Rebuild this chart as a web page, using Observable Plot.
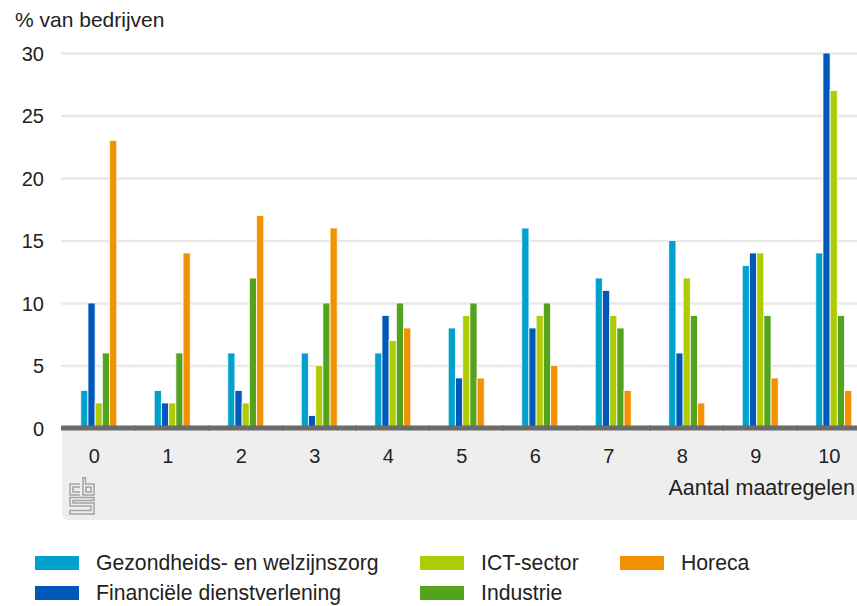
<!DOCTYPE html>
<html>
<head>
<meta charset="utf-8">
<script src="https://cdn.jsdelivr.net/npm/d3@7"></script>
<script src="https://cdn.jsdelivr.net/npm/@observablehq/plot@0.6"></script>
<style>
  body { margin: 0; background: #fff; font-family: "Liberation Sans", Arial, sans-serif; color: #222; }
  #wrap { position: relative; width: 857px; height: 606px; overflow: hidden; }
  #panel { position: absolute; left: 62px; top: 430px; width: 830px; height: 90px; background: #eeeeee; border-bottom-left-radius: 6px; }
  #chart { position: absolute; left: 0; top: 0; }
  #ytitle { position: absolute; left: 15px; top: 8px; font-size: 21px; white-space: nowrap; }
  #xtitle { position: absolute; right: 2px; top: 476px; font-size: 21.5px; white-space: nowrap; }
  #logo { position: absolute; left: 69px; top: 477px; }
  #legend { position: absolute; left: 35px; top: 548px; display: grid; grid-template-rows: 30px 30px; grid-auto-flow: column; grid-template-columns: 385px 200px 200px; font-size: 21.2px; }
  .item { display: flex; align-items: center; white-space: nowrap; }
  .sw { width: 44px; height: 14px; margin-right: 17px; flex: none; }
</style>
</head>
<body>
<div id="wrap">
  <div id="panel"></div>
  <div id="chart"></div>
  <div id="ytitle"></div>
  <div id="xtitle"></div>
  <svg id="logo" width="28" height="38" viewBox="0 0 28 38" fill="none" stroke="#a3a3a3" stroke-width="1.5">
    <path d="M11,7 H1 V18 H11"/>
    <path d="M11,10 H4 V15 H11"/>
    <path d="M14,0.8 H16.5 V7 H25 V18 H14 Z"/>
    <path d="M17,10 H22 V15 H17 Z"/>
    <path d="M25,20.5 H1 V29 H22 V33.5 H1 V37 H25 V26 H4 V23.5 H25 Z"/>
  </svg>
  <div id="legend"></div>
</div>
<script>
const categories = ["0", "1", "2", "3", "4", "5", "6", "7", "8", "9", "10"];
const seriesNames = ["Gezondheids- en welzijnszorg", "Financiële dienstverlening", "ICT-sector", "Industrie", "Horeca"];
const seriesColors = ["#00a1cd", "#0058b8", "#afcb05", "#53a31d", "#f39200"];
const gezondheidszorg = [3, 3, 6, 6, 6, 8, 16, 12, 15, 13, 14];
const financieel = [10, 2, 3, 1, 9, 4, 8, 11, 6, 14, 30];
const ictSector = [2, 2, 2, 5, 7, 9, 9, 9, 12, 14, 27];
const industrie = [6, 6, 12, 10, 10, 10, 10, 8, 9, 9, 9];
const horeca = [23, 14, 17, 16, 8, 4, 5, 3, 2, 4, 3];
const yTicks = [0, 5, 10, 15, 20, 25, 30];
const yTitle = "% van bedrijven";
const xTitle = "Aantal maatregelen";

const seriesValues = [gezondheidszorg, financieel, ictSector, industrie, horeca];
const data = [];
categories.forEach((c, i) => {
  seriesNames.forEach((s, j) => data.push({cat: c, series: s, value: seriesValues[j][i]}));
});

const chart = Plot.plot({
  width: 857,
  height: 520,
  marginTop: 53,
  marginBottom: 92,
  marginLeft: 62,
  marginRight: 0,
  style: {fontFamily: '"Liberation Sans", Arial, sans-serif', fontSize: "20px", color: "#222", background: "transparent"},
  fx: {domain: categories, range: [62, 870.5], padding: 0, round: false, label: null},
  x: {domain: seriesNames, paddingInner: 0, paddingOuter: 2.6, round: false, axis: null},
  y: {domain: [0, 30], range: [428, 53]},
  color: {domain: seriesNames, range: seriesColors},
  marks: [
    Plot.ruleY(yTicks.slice(1), {stroke: "#e9e9e9", strokeWidth: 2.5, insetLeft: -1, insetRight: -1}),
    Plot.barY(data, {fx: "cat", x: "series", y: "value", fill: "series", stroke: "white", strokeWidth: 1, strokeOpacity: 0.8}),
    Plot.ruleY([0], {stroke: "#6b6b6b", strokeWidth: 5, dy: -0.5, insetLeft: -1, insetRight: -1}),
    Plot.axisY({ticks: yTicks, anchor: "left", label: null, tickSize: 0, tickPadding: 18.5, fontSize: 20, dy: 1, tickFormat: d => String(d)}),
    Plot.axisFx({anchor: "bottom", label: null, tickSize: 0, tickPadding: 20, fontSize: 20, dx: -5})
  ]
});
document.getElementById("chart").appendChild(chart);
document.getElementById("ytitle").textContent = yTitle;
document.getElementById("xtitle").textContent = xTitle;

const legend = d3.select("#legend");
seriesNames.forEach((s, i) => {
  const item = legend.append("div").attr("class", "item");
  item.append("div").attr("class", "sw").style("background", seriesColors[i]);
  item.append("span").text(s);
});
</script>
</body>
</html>
